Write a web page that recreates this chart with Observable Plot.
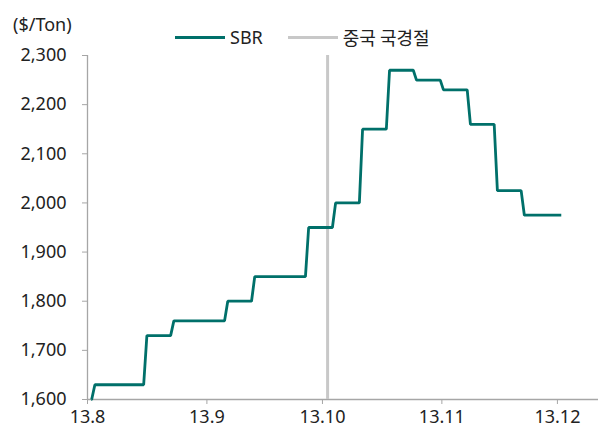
<!DOCTYPE html>
<html>
<head>
<meta charset="utf-8">
<script src="https://cdn.jsdelivr.net/npm/d3@7"></script>
<script src="https://cdn.jsdelivr.net/npm/@observablehq/plot@0.6"></script>
<style>
  html, body { margin: 0; padding: 0; background: #fff; }
  #wrap { position: relative; width: 603px; height: 430px; font-family: "Noto Sans", "Noto Sans CJK KR", sans-serif; color: #222; }
  #unit { position: absolute; left: 13px; top: 13px; font-size: 18px; line-height: 22px; z-index: 2; }
  #legend { position: absolute; left: 175px; top: 26px; height: 22px; display: flex; align-items: center; font-size: 18px; line-height: 22px; z-index: 2; }
  .sw { display: inline-block; width: 50px; height: 3px; margin-right: 5px; }
  #chart { position: absolute; left: 0; top: 30px; z-index: 1; }
</style>
</head>
<body>
<div id="wrap">
  <div id="unit">($/Ton)</div>
  <div id="legend">
    <span class="sw" style="background:#00706a"></span><span style="margin-right:25px">SBR</span>
    <span class="sw" style="background:#c8c8c8"></span><span style="font-family:'Noto Sans CJK KR','Noto Sans',sans-serif">중국 국경절</span>
  </div>
  <div id="chart"></div>
</div>
<script>
// --- data ---
const seriesName = "SBR";
const eventName = "중국 국경절";
const startDate = "2013-08-02";
const startPrice = 1600;
// dates on which the weekly SBR price changed, and the new price ($/Ton)
const changeDates = ["2013-08-02T12:00", "2013-08-16", "2013-08-23", "2013-09-06", "2013-09-13", "2013-09-27",
  "2013-10-04", "2013-10-11", "2013-10-18", "2013-10-25", "2013-11-01", "2013-11-08", "2013-11-15", "2013-11-22"];
const prices = [1630, 1730, 1760, 1800, 1850, 1950, 2000, 2150, 2270, 2250, 2230, 2160, 2025, 1975];
const endDate = "2013-12-02";
const nationalDay = "2013-10-02T08:00";
const xTickDates = ["2013-08-01", "2013-09-01", "2013-10-01", "2013-11-01", "2013-12-01"];
const xTickLabels = ["13.8", "13.9", "13.10", "13.11", "13.12"];
const yTicks = [1600, 1700, 1800, 1900, 2000, 2100, 2200, 2300];
const xDomain = ["2013-08-01", "2013-12-11T16:00"];

// --- build the stepped line ---
const parse = s => new Date(s);
const H = 3600 * 1000;
const pts = [{date: parse(startDate), price: startPrice}];
let prev = startPrice;
changeDates.forEach((d, i) => {
  const t = parse(d).getTime();
  pts.push({date: new Date(t - 10 * H), price: prev});
  pts.push({date: new Date(t + 10 * H), price: prices[i]});
  prev = prices[i];
});
pts.push({date: parse(endDate), price: prev});

const tickDates = xTickDates.map(parse);
const labelOf = new Map(tickDates.map((d, i) => [+d, xTickLabels[i]]));
const x0 = parse(xDomain[0]);

const plot = Plot.plot({
  width: 603,
  height: 400,
  marginTop: 25,
  marginBottom: 31,
  marginLeft: 87,
  marginRight: 5,
  style: {fontFamily: "'Noto Sans', sans-serif", fontSize: "18px", color: "#222", background: "transparent"},
  x: {type: "utc", domain: xDomain.map(parse)},
  y: {domain: [1600, 2300]},
  marks: [
    Plot.ruleY([1600], {stroke: "#a6a6a6", strokeWidth: 1.3}),
    Plot.ruleX([x0], {y1: 1600, y2: 2300, stroke: "#a6a6a6", strokeWidth: 1.3}),
    Plot.axisY({ticks: yTicks, tickFormat: d3.format(","), tickSize: 5, tickPadding: 16, stroke: "#a6a6a6", fill: "#222", label: null, fontSize: 18}),
    Plot.axisX({ticks: tickDates, tickFormat: d => labelOf.get(+d), tickSize: 5, tickPadding: 6, stroke: "#a6a6a6", fill: "#222", label: null, fontSize: 18}),
    Plot.ruleX([parse(nationalDay)], {y1: 1600, y2: 2300, stroke: "#c8c8c8", strokeWidth: 3}),
    Plot.line(pts, {x: "date", y: "price", stroke: "#00706a", strokeWidth: 2.8, strokeLinejoin: "miter", strokeLinecap: "butt"})
  ]
});
document.getElementById("chart").appendChild(plot);
</script>
</body>
</html>
